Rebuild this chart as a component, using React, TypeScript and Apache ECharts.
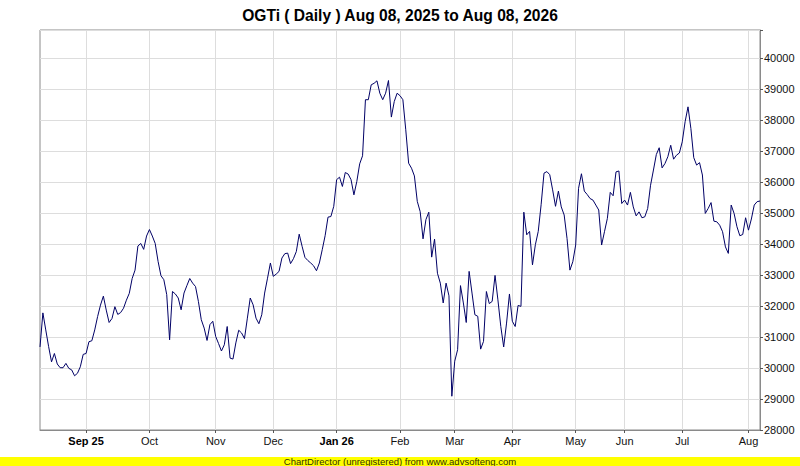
import React, { useEffect, useRef } from "react";
import * as echarts from "echarts";

// Values by month (one value per trading day)
const aug2025 = [30680, 31780, 31230, 30690, 30200, 30470, 30130, 30010, 30010, 30150, 29990, 29940, 29750, 29830, 30040, 30440];
const sep2025 = [30470, 30850, 30880, 31230, 31660, 32030, 32320, 31870, 31470, 31600, 31980, 31730, 31790, 31930, 32190, 32410, 32890, 33160, 33940, 34020, 33830, 34260];
const oct2025 = [34470, 34260, 34020, 33440, 32980, 32850, 32370, 30910, 32470, 32390, 32260, 31880, 32420, 32660, 32890, 32740, 32630, 32150, 31560, 31290, 30890, 31400, 31510];
const nov2025 = [31020, 30790, 30550, 30750, 31340, 30320, 30290, 30810, 31220, 31130, 30950, 31610, 32260, 32040, 31610, 31430, 31720, 32420, 32900, 33390];
const dec2025 = [32960, 33030, 33120, 33550, 33690, 33710, 33370, 33530, 33760, 34320, 33930, 33570, 33470, 33390, 33300, 33140, 33390, 33820, 34270, 34870, 34890, 35220];
const jan2026 = [36080, 36160, 35860, 36310, 36260, 36080, 35590, 36020, 36590, 36850, 38660, 38660, 39140, 39190, 39270, 38870, 38660, 38870, 39280, 38100, 38600, 38870];
const feb2026 = [38790, 38660, 37690, 36610, 36450, 36200, 35380, 35050, 34170, 34790, 35030, 33580, 34160, 33060, 32740, 32100, 32740, 32330, 29090];
const mar2026 = [30220, 30590, 32660, 32100, 31470, 33120, 32420, 31720, 31670, 30610, 30860, 32470, 32080, 32150, 32990, 32200, 31340, 30680, 31450, 32390];
const apr2026 = [31510, 31340, 32020, 31990, 35030, 34300, 34410, 33330, 33980, 34410, 35270, 36290, 36340, 36240, 35750, 35220, 35710, 35200, 34940, 34180, 33160, 33430];
const may2026 = [33970, 35800, 36270, 35710, 35600, 35470, 35420, 35260, 35100, 33970, 34400, 34830, 35670, 35560, 36330, 36360, 35310];
const jun2026 = [35420, 35260, 35670, 35200, 34910, 35040, 34850, 34880, 35150, 35900, 36390, 36890, 37110, 36460, 36600, 36820, 37190, 36740, 36870, 36940];
const jul2026 = [37300, 37950, 38430, 37730, 36790, 36550, 36630, 36230, 34990, 35150, 35340, 34740, 34720, 34610, 34400, 33910, 33700, 35260, 34990, 34560, 34270, 34310, 34850];
const aug2026 = [34450, 34810, 35260, 35370, 35390];

// Calendar
const firstDay = "2025-08-08";
const lastDay = "2026-08-07";
const closedDays = [
  "2025-12-25", "2026-02-16", "2026-03-20", "2026-03-27",
  "2026-05-01", "2026-05-14", "2026-05-25", "2026-05-26",
  "2026-06-04", "2026-06-19",
];
const monthNames = ["Jan", "Feb", "Mar", "Apr", "May", "Jun", "Jul", "Aug", "Sep", "Oct", "Nov", "Dec"];
const yMin = 28000;
const yMax = 40910;
const yStep = 1000;

const titleText = "OGTi ( Daily ) Aug 08, 2025 to Aug 08, 2026";
const footerText = "ChartDirector (unregistered) from www.advsofteng.com";

function pad(n: number) {
  return n < 10 ? "0" + n : "" + n;
}

function tradingDays(): string[] {
  const out: string[] = [];
  const closed = new Set(closedDays);
  const d = new Date(firstDay + "T00:00:00Z");
  const end = new Date(lastDay + "T00:00:00Z");
  while (d.getTime() <= end.getTime()) {
    const wd = d.getUTCDay();
    const s = d.getUTCFullYear() + "-" + pad(d.getUTCMonth() + 1) + "-" + pad(d.getUTCDate());
    if (wd !== 0 && wd !== 6 && !closed.has(s)) out.push(s);
    d.setUTCDate(d.getUTCDate() + 1);
  }
  return out;
}

const FONT = "'Liberation Sans', Arial, Helvetica, sans-serif";

export default function App() {
  const ref = useRef<HTMLDivElement>(null);

  useEffect(() => {
    if (!ref.current) return;
    const chart = echarts.init(ref.current, undefined, { renderer: "svg" });

    const values = [
      ...aug2025, ...sep2025, ...oct2025, ...nov2025, ...dec2025, ...jan2026,
      ...feb2026, ...mar2026, ...apr2026, ...may2026, ...jun2026, ...jul2026, ...aug2026,
    ];
    const dates = tradingDays().slice(0, values.length);

    const monthStart = new Set<number>();
    for (let i = 1; i < dates.length; i++) {
      if (dates[i].slice(5, 7) !== dates[i - 1].slice(5, 7)) monthStart.add(i);
    }
    let firstLabel = -1;
    for (let i = 1; i < dates.length; i++) if (monthStart.has(i)) { firstLabel = i; break; }
    const isStart = (i: number) => monthStart.has(i);

    chart.setOption({
      animation: false,
      backgroundColor: "#ffffff",
      title: {
        text: titleText,
        left: "center",
        top: 2,
        textStyle: { fontSize: 15.6, fontWeight: "bold", color: "#000000", fontFamily: FONT },
      },
      grid: {
        left: 40,
        right: 40,
        top: 30,
        bottom: 36,
        show: true,
        borderColor: "#8a8a8a",
        borderWidth: 1,
        containLabel: false,
      },
      xAxis: {
        type: "category",
        data: dates,
        boundaryGap: false,
        axisLine: { show: true, lineStyle: { color: "#8a8a8a", width: 1 } },
        axisTick: { show: true, interval: (i: number) => isStart(i), length: 3, lineStyle: { color: "#555555" } },
        axisLabel: {
          interval: (i: number) => isStart(i),
          margin: 5,
          fontSize: 11,
          color: "#111111",
          fontFamily: FONT,
          formatter: (val: string, i: number) => {
            const m = parseInt(val.slice(5, 7), 10) - 1;
            const yy = val.slice(2, 4);
            if (m === 0 || i === firstLabel) return "{b|" + monthNames[m] + " " + yy + "}";
            return monthNames[m];
          },
          rich: { b: { fontWeight: "bold", fontSize: 11, color: "#000000", fontFamily: FONT } },
        },
        splitLine: { show: true, interval: (i: number) => isStart(i), lineStyle: { color: "#dddddd", width: 1 } },
      },
      yAxis: {
        type: "value",
        position: "right",
        min: yMin,
        max: yMax,
        interval: yStep,
        axisLine: { show: true, lineStyle: { color: "#8a8a8a", width: 1 } },
        axisTick: { show: true, length: 3, lineStyle: { color: "#555555" } },
        axisLabel: {
          margin: 4,
          fontSize: 11,
          color: "#111111",
          fontFamily: FONT,
          formatter: (v: number) => (v % yStep === 0 ? String(v) : ""),
        },
        splitLine: { show: true, lineStyle: { color: "#dddddd", width: 1 } },
      },
      series: [
        {
          type: "line",
          data: values,
          symbol: "none",
          showSymbol: false,
          lineStyle: { color: "#000066", width: 1 },
          itemStyle: { color: "#000066" },
        },
      ],
      graphic: [
        {
          type: "rect",
          left: 0,
          top: 457,
          shape: { width: 800, height: 9 },
          style: { fill: "#ffff00" },
          silent: true,
        },
        {
          type: "text",
          x: 400,
          y: 461.5,
          style: {
            text: footerText,
            fill: "#333300",
            fontSize: 9.5,
            fontFamily: FONT,
            align: "center",
            verticalAlign: "middle",
          },
          silent: true,
        },
      ],
    });

    return () => chart.dispose();
  }, []);

  return (
    <div
      ref={ref}
      style={{ position: "absolute", left: 0, top: 0, width: 800, height: 466 }}
    />
  );
}
